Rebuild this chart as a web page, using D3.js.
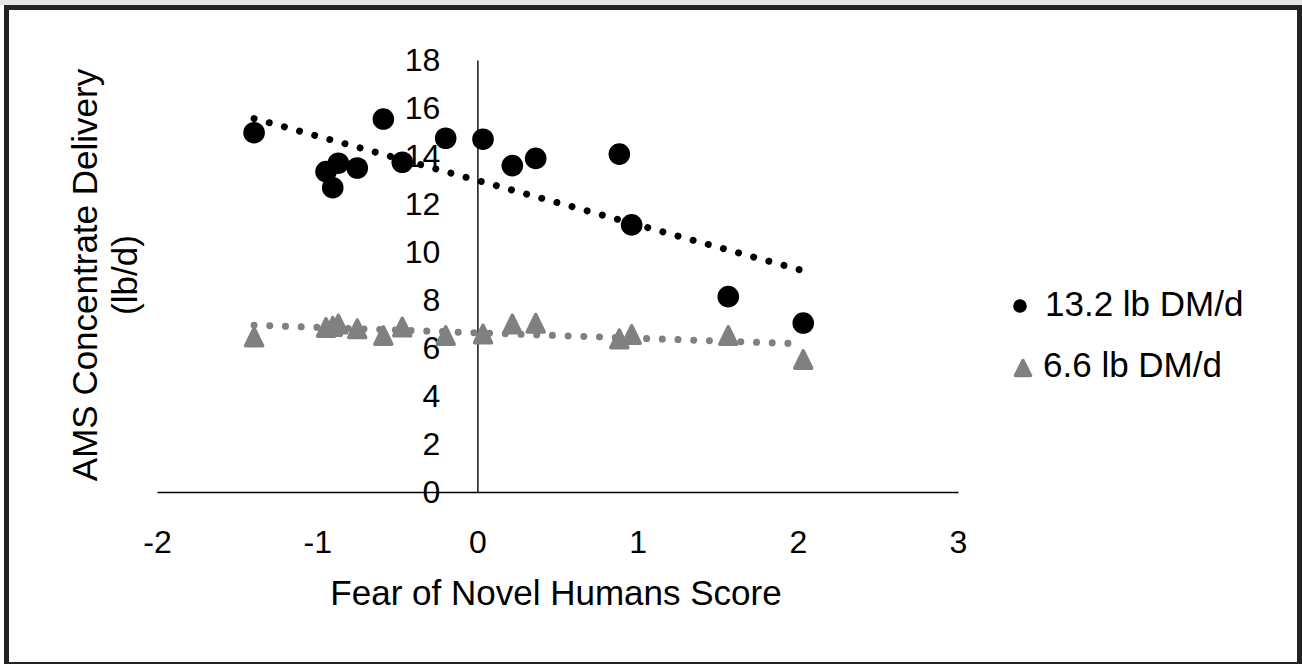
<!DOCTYPE html>
<html>
<head>
<meta charset="utf-8">
<script src="https://cdn.jsdelivr.net/npm/d3@7"></script>
<style>
  body { margin: 0; background: #fff; }
  svg { display: block; }
  text { font-family: "Liberation Sans", Arial, sans-serif; fill: #000; }
</style>
</head>
<body>
<svg id="chart" width="1302" height="664"></svg>
<script>
// Fear of novel humans score per cow
const scores = [-1.394, -0.945, -0.868, -0.903, -0.750, -0.587, -0.469, -0.198,
                0.035, 0.218, 0.364, 0.886, 0.963, 1.566, 2.034];
// AMS concentrate delivery (lb/d), 13.2 lb DM/d allowance
const highDelivery = [14.97, 13.35, 13.70, 12.68, 13.50, 15.54, 13.74, 14.74,
                      14.70, 13.60, 13.90, 14.08, 11.13, 8.14, 7.04];
// AMS concentrate delivery (lb/d), 6.6 lb DM/d allowance
const lowDelivery = [6.46, 6.85, 7.00, 6.90, 6.80, 6.52, 6.87, 6.52,
                     6.58, 7.00, 7.03, 6.38, 6.56, 6.52, 5.52];
const seriesNames = ["13.2 lb DM/d", "6.6 lb DM/d"];
const xTicks = [-2, -1, 0, 1, 2, 3];
const yTicks = [0, 2, 4, 6, 8, 10, 12, 14, 16, 18];
const xTitle = "Fear of Novel Humans Score";
const yTitleLines = ["AMS Concentrate Delivery", "(lb/d)"];

const svg = d3.select("#chart");
const W = 1302, H = 664;
const black = "#000000", grey = "#808080";

// outer frame
svg.append("rect").attr("x", 0).attr("y", 0).attr("width", W).attr("height", 5).attr("fill", "#e4e4e4");
svg.append("rect")
  .attr("x", 6.5).attr("y", 7.5).attr("width", 1293).attr("height", 657)
  .attr("fill", "#fff").attr("stroke", "#222").attr("stroke-width", 5);

const x = d3.scaleLinear().domain([-2, 3]).range([157, 958]);
const y = d3.scaleLinear().domain([0, 18]).range([492, 60]);

// axes cross at the origin
const xAxis = svg.append("g")
  .attr("transform", `translate(0,${y(0)})`)
  .call(d3.axisBottom(x).tickValues(xTicks).tickSize(0).tickPadding(38).tickFormat(d => String(d)));
xAxis.select(".domain").attr("stroke", "#000").attr("stroke-width", 1.4);
xAxis.selectAll("text").attr("font-size", 32).attr("font-family", "Liberation Sans, Arial, sans-serif").attr("fill", "#000");

const yAxis = svg.append("g")
  .attr("transform", `translate(${x(0)},0)`)
  .call(d3.axisLeft(y).tickValues(yTicks).tickSize(0).tickPadding(37).tickFormat(d => String(d)));
yAxis.select(".domain").attr("stroke", "#000").attr("stroke-width", 1.4);
yAxis.selectAll("text").attr("font-size", 32).attr("font-family", "Liberation Sans, Arial, sans-serif").attr("fill", "#000");

// axis titles
svg.append("text")
  .attr("x", 556).attr("y", 605)
  .attr("text-anchor", "middle").attr("font-size", 35)
  .text(xTitle);

const yTitle = svg.append("text")
  .attr("transform", "translate(97,275) rotate(-90)")
  .attr("text-anchor", "middle").attr("font-size", 35);
yTitleLines.forEach((line, i) => {
  yTitle.append("tspan").attr("x", 0).attr("y", i * 40).text(line);
});

// least-squares linear trend
function linearFit(xs, ys) {
  const mx = d3.mean(xs), my = d3.mean(ys);
  let sxy = 0, sxx = 0;
  xs.forEach((v, i) => { sxy += (v - mx) * (ys[i] - my); sxx += (v - mx) ** 2; });
  const slope = sxy / sxx;
  return v => my + slope * (v - mx);
}

function triangle(w, h) {
  return `M0,${-h / 2}L${w / 2},${h / 2}L${-w / 2},${h / 2}Z`;
}

const xExtent = d3.extent(scores);

function drawTrend(values, color) {
  const f = linearFit(scores, values);
  svg.append("path")
    .datum(xExtent)
    .attr("d", d3.line().x(d => x(d)).y(d => y(f(d))))
    .attr("fill", "none")
    .attr("stroke", color)
    .attr("stroke-width", 7)
    .attr("stroke-linecap", "round")
    .attr("stroke-dasharray", "0.01 15.7");
}

// 6.6 lb DM/d series (triangles)
svg.append("g").selectAll("path")
  .data(scores.map((s, i) => [s, lowDelivery[i]]))
  .join("path")
  .attr("transform", d => `translate(${x(d[0])},${y(d[1])})`)
  .attr("d", triangle(17, 17.5))
  .attr("fill", grey).attr("stroke", grey)
  .attr("stroke-width", 3.5).attr("stroke-linejoin", "round");

// 13.2 lb DM/d series (circles)
svg.append("g").selectAll("circle")
  .data(scores.map((s, i) => [s, highDelivery[i]]))
  .join("circle")
  .attr("cx", d => x(d[0])).attr("cy", d => y(d[1]))
  .attr("r", 10.8).attr("fill", black);

drawTrend(highDelivery, black);
drawTrend(lowDelivery, grey);

// legend
const legend = svg.append("g");
legend.append("circle").attr("cx", 1020).attr("cy", 306).attr("r", 6.8).attr("fill", black);
legend.append("text").attr("x", 1045).attr("y", 316).attr("font-size", 35).text(seriesNames[0]);
legend.append("path")
  .attr("transform", "translate(1023,368)")
  .attr("d", triangle(15, 15))
  .attr("fill", grey).attr("stroke", grey)
  .attr("stroke-width", 3.5).attr("stroke-linejoin", "round");
legend.append("text").attr("x", 1043).attr("y", 377).attr("font-size", 35).text(seriesNames[1]);
</script>
</body>
</html>
